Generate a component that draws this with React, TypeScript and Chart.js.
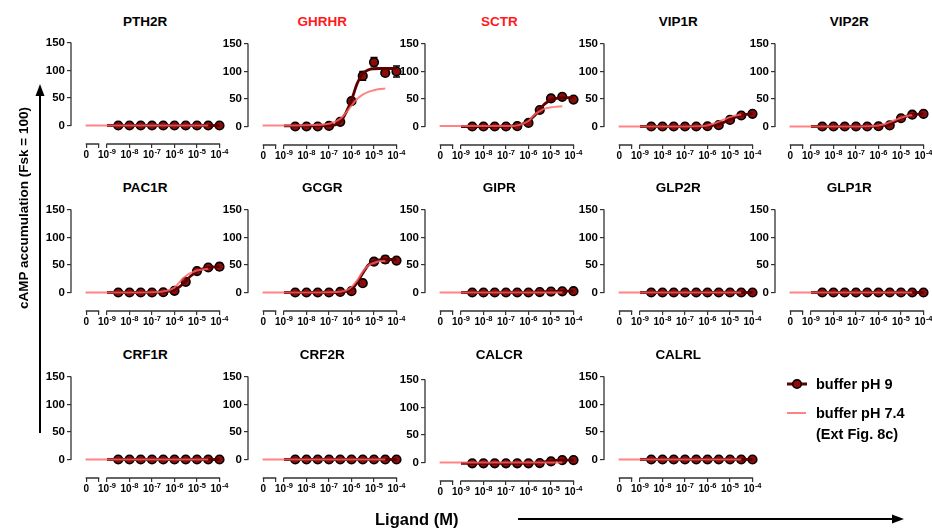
import React, { useEffect, useRef } from 'react';
import { Chart, registerables } from 'chart.js';

Chart.register(...registerables);

// ---------- axis / tick definitions ----------
const doseLog = [-8.5, -8, -7.5, -7, -6.5, -6, -5.5, -5, -4.5, -4];
const fitLog = [-9, -8, -7, -6.5, -6.25, -6, -5.75, -5.5, -5.25, -5, -4.75, -4.5, -4];
const refLog = [-9.95, -9, -8, -7, -6.5, -6.25, -6, -5.75, -5.5, -5.25, -5, -4.75, -4.5, -4];
const xTickValues = [-9.92, -9.37, -9, -8, -7, -6, -5, -4];
const xTickBases = ['0', '', '10', '10', '10', '10', '10', '10'];
const xTickExponents = ['', '', '-9', '-8', '-7', '-6', '-5', '-4'];
const xZeroSegment = [-9.92, -9.37];
const xMainSegment = [-9, -4];
const yTickValues = [0, 50, 100, 150];

// ---------- data (pH 9 means, SEM, fitted curve; pH 7.4 reference curve) ----------
const PTH2R_pH9 = [0, 0, 0, 0, 0, 0, 0, 0, 0, 0];
const PTH2R_sem = [0, 0, 0, 0, 0, 0, 0, 0, 0, 0];
const PTH2R_fit = [0, 0, 0, 0, 0, 0, 0, 0, 0, 0, 0, 0, 0];
const PTH2R_ref = [0, 0, 0, 0, 0, 0, 0, 0, 0, 0, 0, 0, 0, null];

const GHRHR_pH9 = [0, 0, 0, 1, 8.5, 46, 92, 117, 97.5, 100];
const GHRHR_sem = [0, 0, 0, 0, 1.5, 5, 8, 8.5, 5, 10];
const GHRHR_fit = [1, 1, 1.5, 8, 25, 48, 78, 96, 103, 105, 105.5, 105.5, 105.5];
const GHRHR_ref = [2, 2, 2.5, 5, 14, 25, 38, 50, 58, 63, 66, 68, 69, null];

const SCTR_pH9 = [0, 0, 0, 0, 0.6, 6.5, 30, 51, 54, 49];
const SCTR_sem = [0, 0, 0, 0, 0, 1.5, 3, 2, 2, 2];
const SCTR_fit = [0, 0, 0.5, 2, 5, 10, 19, 31, 42, 48, 51, 52, 52.5];
const SCTR_ref = [1, 1, 1, 1, 2, 5, 10, 21, 28, 33, 35, 36, 37, null];

const VIP1R_pH9 = [0, 0, 0, 0, 0, 0.5, 2.5, 12, 20, 23];
const VIP1R_sem = [0, 0, 0, 0, 0, 0, 1, 1.5, 2, 2];
const VIP1R_fit = [0, 0, 0, 0.2, 0.5, 1, 2, 4, 8, 13, 17, 20.5, 23.5];
const VIP1R_ref = [0, 0, 0, 0, 0.5, 1, 2, 5, 9, 13, 17, 20, 22, null];

const VIP2R_pH9 = [0, 0, 0, 0, 0, 0.5, 2, 15, 21.5, 23];
const VIP2R_sem = [0, 0, 0, 0, 0, 0, 1, 1.5, 2, 2];
const VIP2R_fit = [0, 0, 0, 0.2, 0.5, 1, 2, 4, 9, 14.5, 19, 21.5, 23];
const VIP2R_ref = [0, 0, 0, 0, 0.5, 1, 2, 4, 8, 12, 16, 19, 21, null];

const PAC1R_pH9 = [0, 0, 0, 0, 0.5, 3, 19.5, 39, 45.5, 47];
const PAC1R_sem = [0, 0, 0, 0, 0, 1, 3, 3, 3, 6];
const PAC1R_fit = [0, 0, 0.3, 1, 2.5, 5, 11, 21, 31, 38, 43, 45.5, 47];
const PAC1R_ref = [0, 0, 0, 0.5, 2, 4, 9, 20, 30, 36, 40, 42, 43, null];

const GCGR_pH9 = [0, 0, 0, 0, 1, 2.4, 17, 56, 60, 58];
const GCGR_sem = [0, 0, 0, 0, 0, 1, 2, 5, 6, 5];
const GCGR_fit = [0, 0, 0, 0.5, 2, 6, 18, 35, 50, 57, 59.5, 60, 60];
const GCGR_ref = [0, 0, 0, 0.5, 1.5, 4, 10, 22, 38, 49, 54, 57, 57.5, null];

const GIPR_pH9 = [0, 0, 0, 0, 0, 0, 0.8, 1.8, 2.2, 2.5];
const GIPR_sem = [0, 0, 0, 0, 0, 0, 0, 0, 0, 0];
const GIPR_fit = [0, 0, 0, 0, 0, 0.2, 0.5, 1, 1.5, 2, 2.2, 2.4, 2.5];
const GIPR_ref = [0, 0, 0, 0, 0, 0, 0, 0, 0, 0, 0, 0, 0, null];

const GLP2R_pH9 = [0, 0, 0, 0, 0, 0, 0, 0, 0, 0];
const GLP2R_sem = [0, 0, 0, 0, 0, 0, 0, 0, 0, 0];
const GLP2R_fit = [0, 0, 0, 0, 0, 0, 0, 0, 0, 0, 0, 0, 0];
const GLP2R_ref = [0, 0, 0, 0, 0, 0, 0, 0, 0, 0, 0, 0, 0, null];

const GLP1R_pH9 = [0, 0, 0, 0, 0, 0, 0, 0, 0, 0];
const GLP1R_sem = [0, 0, 0, 0, 0, 0, 0, 0, 0, 0];
const GLP1R_fit = [0, 0, 0, 0, 0, 0, 0, 0, 0, 0, 0, 0, 0];
const GLP1R_ref = [0, 0, 0, 0, 0, 0, 0, 0, 0, 0, 0, 0, 0, null];

const CRF1R_pH9 = [0, 0, 0, 0, 0, 0, 0, 0, 0, 0];
const CRF1R_sem = [0, 0, 0, 0, 0, 0, 0, 0, 0, 0];
const CRF1R_fit = [0, 0, 0, 0, 0, 0, 0, 0, 0, 0, 0, 0, 0];
const CRF1R_ref = [0, 0, 0, 0, 0, 0, 0, 0, 0, 0, 0, 0, 0, null];

const CRF2R_pH9 = [0, 0, 0, 0, 0, 0, 0, 0, 0, 0];
const CRF2R_sem = [0, 0, 0, 0, 0, 0, 0, 0, 0, 0];
const CRF2R_fit = [0, 0, 0, 0, 0, 0, 0, 0, 0, 0, 0, 0, 0];
const CRF2R_ref = [0, 0, 0, 0, 0, 0, 0, 0, 0, 0, 0, 0, 0, null];

const CALCR_pH9 = [-1.5, -1.5, -1.5, -1.5, -1.5, -1.5, -1, 2, 4.5, 4.5];
const CALCR_sem = [0, 0, 0, 0, 0, 0, 0, 0, 0, 0];
const CALCR_fit = [-1.5, -1.5, -1.5, -1.5, -1.5, -1.5, -1, 0, 1.5, 3, 4, 4.5, 4.5];
const CALCR_ref = [0, 0, 0, 0, 0, 0, 0, 0, 0, 0, 0, 0, 0, null];

const CALRL_pH9 = [0, 0, 0, 0, 0, 0, 0, 0, 0, 0];
const CALRL_sem = [0, 0, 0, 0, 0, 0, 0, 0, 0, 0];
const CALRL_fit = [0, 0, 0, 0, 0, 0, 0, 0, 0, 0, 0, 0, 0];
const CALRL_ref = [0, 0, 0, 0, 0, 0, 0, 0, 0, 0, 0, 0, 0, null];

const redTitles = ['GHRHR', 'SCTR'];

// ---------- layout ----------
const FONT = '"Liberation Sans", Arial, Helvetica, sans-serif';
const X_MIN = -10.6;
const X_MAX = -4;
const Y_MIN = -33.6;
const Y_MAX = 150;
const CW = 205;
const CH = 135;
const PAD_TOP = 10;
const PAD_RIGHT = 16.5;
const Y_AXIS_W = 40;
const X_AXIS_H = 24;
const colLeft = [71, 248, 425, 604, 775];
const rowTop = [44, 210, 377];

const panels = [
  { name: 'PTH2R', row: 0, col: 0, dy: -1, mean: PTH2R_pH9, sem: PTH2R_sem, fit: PTH2R_fit, ref: PTH2R_ref },
  { name: 'GHRHR', row: 0, col: 1, dy: 0, mean: GHRHR_pH9, sem: GHRHR_sem, fit: GHRHR_fit, ref: GHRHR_ref },
  { name: 'SCTR', row: 0, col: 2, dy: 0, mean: SCTR_pH9, sem: SCTR_sem, fit: SCTR_fit, ref: SCTR_ref },
  { name: 'VIP1R', row: 0, col: 3, dy: 0, mean: VIP1R_pH9, sem: VIP1R_sem, fit: VIP1R_fit, ref: VIP1R_ref },
  { name: 'VIP2R', row: 0, col: 4, dy: 0, mean: VIP2R_pH9, sem: VIP2R_sem, fit: VIP2R_fit, ref: VIP2R_ref },
  { name: 'PAC1R', row: 1, col: 0, dy: 0, mean: PAC1R_pH9, sem: PAC1R_sem, fit: PAC1R_fit, ref: PAC1R_ref },
  { name: 'GCGR', row: 1, col: 1, dy: 0, mean: GCGR_pH9, sem: GCGR_sem, fit: GCGR_fit, ref: GCGR_ref },
  { name: 'GIPR', row: 1, col: 2, dy: 0, mean: GIPR_pH9, sem: GIPR_sem, fit: GIPR_fit, ref: GIPR_ref },
  { name: 'GLP2R', row: 1, col: 3, dy: 0, mean: GLP2R_pH9, sem: GLP2R_sem, fit: GLP2R_fit, ref: GLP2R_ref },
  { name: 'GLP1R', row: 1, col: 4, dy: 0, mean: GLP1R_pH9, sem: GLP1R_sem, fit: GLP1R_fit, ref: GLP1R_ref },
  { name: 'CRF1R', row: 2, col: 0, dy: 0, mean: CRF1R_pH9, sem: CRF1R_sem, fit: CRF1R_fit, ref: CRF1R_ref },
  { name: 'CRF2R', row: 2, col: 1, dy: 0, mean: CRF2R_pH9, sem: CRF2R_sem, fit: CRF2R_fit, ref: CRF2R_ref },
  { name: 'CALCR', row: 2, col: 2, dy: 3, mean: CALCR_pH9, sem: CALCR_sem, fit: CALCR_fit, ref: CALCR_ref },
  { name: 'CALRL', row: 2, col: 3, dy: 0, mean: CALRL_pH9, sem: CALRL_sem, fit: CALRL_fit, ref: CALRL_ref },
];

const DARK = '#5e0000';
const POINT_FILL = '#8e0b0b';
const PINK = 'rgba(255, 100, 100, 0.8)';
const AXIS = '#333';

const axisLinePlugin = {
  id: 'axisLines',
  beforeDatasetsDraw(chart: any) {
    const { ctx, chartArea, scales } = chart;
    const x = scales.x;
    const y = scales.y;
    ctx.save();
    ctx.strokeStyle = AXIS;
    ctx.lineWidth = 1.3;
    ctx.beginPath();
    ctx.moveTo(chartArea.left, y.getPixelForValue(0) + 0.6);
    ctx.lineTo(chartArea.left, y.getPixelForValue(150) - 0.6);
    const by = chartArea.bottom;
    ctx.moveTo(x.getPixelForValue(xZeroSegment[0]) - 0.6, by);
    ctx.lineTo(x.getPixelForValue(xZeroSegment[1]) + 0.6, by);
    ctx.moveTo(x.getPixelForValue(xMainSegment[0]) - 0.6, by);
    ctx.lineTo(x.getPixelForValue(xMainSegment[1]) + 0.6, by);
    ctx.stroke();
    ctx.restore();
  },
  afterDraw(chart: any) {
    // x tick labels with real superscript exponents (10^-9 ... 10^-4)
    const { ctx, chartArea, scales } = chart;
    const x = scales.x;
    const baseFont = `bold 10px ${FONT}`;
    const expFont = `bold 7.5px ${FONT}`;
    const cy = chartArea.bottom + 11.5;
    ctx.save();
    ctx.fillStyle = '#000';
    ctx.textBaseline = 'middle';
    ctx.textAlign = 'left';
    xTickValues.forEach((v, i) => {
      const base = xTickBases[i];
      const exp = xTickExponents[i];
      if (!base) return;
      const px = x.getPixelForValue(v);
      ctx.font = baseFont;
      const wb = ctx.measureText(base).width;
      ctx.font = expFont;
      const we = exp ? ctx.measureText(exp).width + 0.3 : 0;
      const start = px - (wb + we) / 2;
      ctx.font = baseFont;
      ctx.fillText(base, start, cy);
      if (exp) {
        ctx.font = expFont;
        ctx.fillText(exp, start + wb + 0.3, cy - 3.3);
      }
    });
    ctx.restore();
  },
};

const errorBarPlugin = {
  id: 'errorBars',
  beforeDatasetDraw(chart: any, args: any) {
    const ds = chart.data.datasets[args.index];
    if (!ds.sem) return;
    const { ctx, scales } = chart;
    const x = scales.x;
    const y = scales.y;
    ctx.save();
    ctx.strokeStyle = '#000';
    ctx.lineWidth = 1.3;
    ds.data.forEach((pt: any, i: number) => {
      const e = ds.sem[i];
      if (!e) return;
      const px = x.getPixelForValue(pt.x);
      const y1 = y.getPixelForValue(pt.y + e);
      const y2 = y.getPixelForValue(pt.y - e);
      ctx.beginPath();
      ctx.moveTo(px, y1);
      ctx.lineTo(px, y2);
      ctx.moveTo(px - 3.5, y1);
      ctx.lineTo(px + 3.5, y1);
      ctx.moveTo(px - 3.5, y2);
      ctx.lineTo(px + 3.5, y2);
      ctx.stroke();
    });
    ctx.restore();
  },
};

function Panel({ p }: { p: any }) {
  const ref = useRef<HTMLCanvasElement>(null);
  useEffect(() => {
    if (!ref.current) return;
    const chart = new Chart(ref.current, {
      type: 'scatter',
      data: {
        datasets: [
          {
            label: 'buffer pH 7.4',
            data: refLog.map((x, i) => ({ x, y: p.ref[i] })),
            showLine: true,
            borderColor: PINK,
            borderWidth: 2,
            pointRadius: 0,
            cubicInterpolationMode: 'monotone',
            spanGaps: false,
            clip: false,
          } as any,
          {
            label: 'fit pH 9',
            data: fitLog.map((x, i) => ({ x, y: p.fit[i] })),
            showLine: true,
            borderColor: DARK,
            borderWidth: 2.8,
            pointRadius: 0,
            cubicInterpolationMode: 'monotone',
            clip: false,
          } as any,
          {
            label: 'buffer pH 9',
            data: doseLog.map((x, i) => ({ x, y: p.mean[i] })),
            sem: p.sem,
            showLine: false,
            pointRadius: 4.3,
            pointBackgroundColor: POINT_FILL,
            pointBorderColor: '#000',
            pointBorderWidth: 1.6,
            clip: false,
          } as any,
        ],
      },
      options: {
        responsive: false,
        animation: false,
        devicePixelRatio: 1,
        events: [],
        layout: { padding: { left: 0, top: PAD_TOP, right: PAD_RIGHT, bottom: 0 } },
        plugins: {
          legend: { display: false },
          tooltip: { enabled: false },
          title: { display: false },
        },
        scales: {
          x: {
            type: 'linear',
            position: 'bottom',
            min: X_MIN,
            max: X_MAX,
            afterBuildTicks: (s: any) => {
              s.ticks = xTickValues.map((v) => ({ value: v }));
            },
            afterFit: (s: any) => {
              s.height = X_AXIS_H;
            },
            ticks: {
              display: false,
              autoSkip: false,
              maxRotation: 0,
              minRotation: 0,
            },
            grid: {
              display: true,
              drawOnChartArea: false,
              drawTicks: true,
              tickLength: 4,
              color: AXIS,
              lineWidth: 1.2,
            },
            border: { display: false },
          },
          y: {
            type: 'linear',
            min: Y_MIN,
            max: Y_MAX,
            afterBuildTicks: (s: any) => {
              s.ticks = yTickValues.map((v) => ({ value: v }));
            },
            afterFit: (s: any) => {
              s.width = Y_AXIS_W;
            },
            ticks: {
              autoSkip: false,
              padding: 2,
              color: '#000',
              font: { family: FONT, size: 11.5, weight: 'bold' },
              callback: (v: any) => String(v),
            },
            grid: {
              display: true,
              drawOnChartArea: false,
              drawTicks: true,
              tickLength: 4,
              color: AXIS,
              lineWidth: 1.2,
            },
            border: { display: false },
          },
        },
      } as any,
      plugins: [axisLinePlugin, errorBarPlugin],
    });
    return () => chart.destroy();
  }, [p]);

  const chartLeft = colLeft[p.col];
  const y150 = rowTop[p.row] + p.dy;
  const titleCenter = rowTop[p.row] - 22;
  return (
    <>
      <div
        style={{
          position: 'absolute',
          left: chartLeft,
          top: titleCenter - 8,
          width: 148.5,
          height: 16,
          lineHeight: '16px',
          textAlign: 'center',
          fontFamily: FONT,
          fontWeight: 'bold',
          fontSize: 13.5,
          color: redTitles.includes(p.name) ? '#ff1a1a' : '#000',
          whiteSpace: 'nowrap',
        }}
      >
        {p.name}
      </div>
      <canvas
        ref={ref}
        width={CW}
        height={CH}
        style={{ position: 'absolute', left: chartLeft - Y_AXIS_W, top: y150 - PAD_TOP, width: CW, height: CH }}
      />
    </>
  );
}

export default function App() {
  return (
    <div
      style={{
        position: 'absolute',
        left: 0,
        top: 0,
        width: 932,
        height: 531,
        background: '#fff',
        overflow: 'hidden',
        fontFamily: FONT,
      }}
    >
      {panels.map((p) => (
        <Panel key={p.name} p={p} />
      ))}

      {/* y axis title */}
      <div
        style={{
          position: 'absolute',
          left: 24 - 160,
          top: 208 - 9,
          width: 320,
          height: 18,
          lineHeight: '18px',
          textAlign: 'center',
          fontWeight: 'bold',
          fontSize: 13.5,
          color: '#000',
          transform: 'rotate(-90deg)',
          whiteSpace: 'nowrap',
        }}
      >
        cAMP accumulation (Fsk = 100)
      </div>

      {/* x axis title */}
      <div
        style={{
          position: 'absolute',
          left: 375,
          top: 519 - 10,
          height: 20,
          lineHeight: '20px',
          fontWeight: 'bold',
          fontSize: 16.5,
          color: '#000',
          whiteSpace: 'nowrap',
        }}
      >
        Ligand (M)
      </div>

      <svg width={932} height={531} style={{ position: 'absolute', left: 0, top: 0, pointerEvents: 'none' }}>
        <line x1={40} y1={433} x2={40} y2={94} stroke="#000" strokeWidth={2} />
        <polygon points="40,84 35.5,96 44.5,96" fill="#000" />
        <line x1={518} y1={519} x2={894} y2={519} stroke="#000" strokeWidth={2} />
        <polygon points="904,519 892,514.5 892,523.5" fill="#000" />
        {/* legend markers */}
        <line x1={787} y1={384} x2={807} y2={384} stroke={DARK} strokeWidth={3} />
        <circle cx={797} cy={384} r={4.3} fill={POINT_FILL} stroke="#000" strokeWidth={1.6} />
        <line x1={787} y1={413} x2={806} y2={413} stroke={PINK} strokeWidth={2} />
      </svg>

      {/* legend text */}
      <div
        style={{
          position: 'absolute',
          left: 816,
          top: 384 - 9,
          lineHeight: '18px',
          fontWeight: 'bold',
          fontSize: 14.5,
          color: '#000',
          whiteSpace: 'nowrap',
        }}
      >
        buffer pH 9
      </div>
      <div
        style={{
          position: 'absolute',
          left: 816,
          top: 413 - 9,
          lineHeight: '21px',
          fontWeight: 'bold',
          fontSize: 14.5,
          color: '#000',
          whiteSpace: 'nowrap',
          marginTop: -1.5,
        }}
      >
        buffer pH 7.4
        <br />
        (Ext Fig. 8c)
      </div>
    </div>
  );
}
